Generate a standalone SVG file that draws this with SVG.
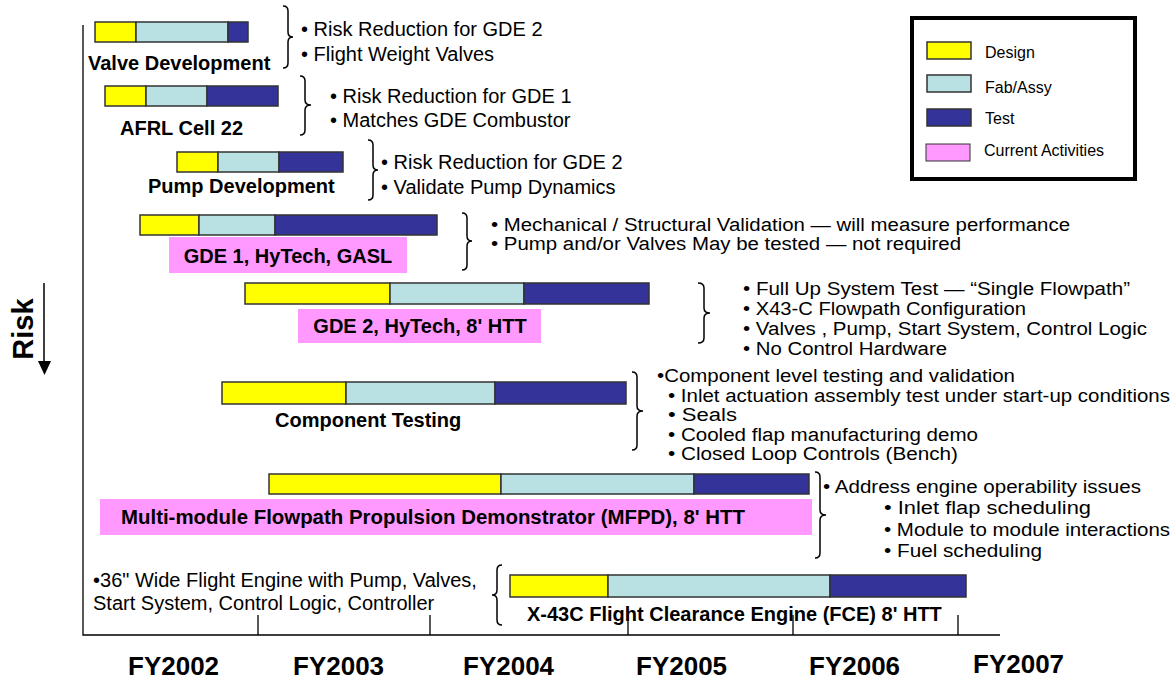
<svg xmlns="http://www.w3.org/2000/svg" width="1176" height="679" viewBox="0 0 1176 679">
<defs>
<style>
.d{fill:#FFFF00;stroke:#333;stroke-width:1.5}
.f{fill:#B9E1E4;stroke:#333;stroke-width:1.5}
.t{fill:#333399;stroke:#333;stroke-width:1.5}
.p{fill:#FF99FF}
.lb{font-family:"Liberation Sans",Arial,sans-serif;font-weight:bold;font-size:20px;fill:#000}
.tx{font-family:"Liberation Sans",Arial,sans-serif;font-size:20px;fill:#000}
.sm{font-family:"Liberation Sans",Arial,sans-serif;font-size:18px;fill:#000}
.lg{font-family:"Liberation Sans",Arial,sans-serif;font-size:16px;fill:#000}
.fy{font-family:"Liberation Sans",Arial,sans-serif;font-weight:bold;font-size:26px;fill:#000}
.br{fill:none;stroke:#000;stroke-width:1.5}
.ax{fill:none;stroke:#000;stroke-width:1.3}
</style>
</defs>
<rect width="1176" height="679" fill="#fff"/>

<g id="axes">
<path class="ax" d="M83,25 V635 H1000"/>
<path class="ax" d="M258,615 V635 M430,615 V635 M628,615 V635 M793,615 V635 M958,615 V635"/>
<text class="fy" x="128" y="675">FY2002</text>
<text class="fy" x="293" y="675">FY2003</text>
<text class="fy" x="463" y="675">FY2004</text>
<text class="fy" x="636" y="675">FY2005</text>
<text class="fy" x="809" y="675">FY2006</text>
<text class="fy" x="973" y="673">FY2007</text>
</g>

<g id="risk">
<text class="lb" style="font-size:29px" transform="translate(33,329) rotate(-90)" text-anchor="middle">Risk</text>
<line x1="44" y1="283" x2="44" y2="362" stroke="#000" stroke-width="1.5"/>
<path d="M38,361 L51,361 L44.5,375 z" fill="#000"/>
</g>

<g id="legend">
<rect x="912" y="18" width="223" height="161" fill="#fff" stroke="#000" stroke-width="4"/>
<rect class="d" x="927" y="42" width="44" height="17"/>
<text class="lg" x="985" y="58">Design</text>
<rect class="f" x="927" y="75" width="44" height="17"/>
<text class="lg" x="985" y="93">Fab/Assy</text>
<rect class="t" x="927" y="109" width="44" height="17"/>
<text class="lg" x="985" y="124">Test</text>
<rect class="p" x="926" y="144" width="44" height="17" stroke="#333" stroke-width="1"/>
<text class="lg" x="984" y="156">Current Activities</text>
</g>

<g id="valve">
<rect class="d" x="95" y="22" width="41" height="20"/>
<rect class="f" x="136" y="22" width="92" height="20"/>
<rect class="t" x="228" y="22" width="20" height="20"/>
<text class="lb" x="88" y="70">Valve Development</text>
<text class="tx" x="301" y="36">• Risk Reduction for GDE 2</text>
<text class="tx" x="301" y="61">• Flight Weight Valves</text>
</g>

<g id="afrl">
<rect class="d" x="105" y="86" width="41" height="20"/>
<rect class="f" x="146" y="86" width="61" height="20"/>
<rect class="t" x="207" y="86" width="71" height="20"/>
<text class="lb" x="120" y="135">AFRL Cell 22</text>
<text class="tx" x="330" y="103">• Risk Reduction for GDE 1</text>
<text class="tx" x="330" y="127">• Matches GDE Combustor</text>
</g>

<g id="pump">
<rect class="d" x="177" y="152" width="41" height="20"/>
<rect class="f" x="218" y="152" width="61" height="20"/>
<rect class="t" x="279" y="152" width="64" height="20"/>
<text class="lb" x="148" y="193">Pump Development</text>
<text class="tx" x="381" y="169">• Risk Reduction for GDE 2</text>
<text class="tx" x="381" y="194">• Validate Pump Dynamics</text>
</g>

<g id="gde1">
<rect class="d" x="140" y="215" width="59" height="20"/>
<rect class="f" x="199" y="215" width="76" height="20"/>
<rect class="t" x="275" y="215" width="162" height="20"/>
<rect class="p" x="169" y="237" width="238" height="36"/>
<text class="lb" x="288" y="263" text-anchor="middle">GDE 1, HyTech, GASL</text>
<text class="sm" x="491" y="231" textLength="579" lengthAdjust="spacingAndGlyphs">• Mechanical / Structural Validation — will measure performance</text>
<text class="sm" x="491" y="250" textLength="470" lengthAdjust="spacingAndGlyphs">• Pump and/or Valves May be tested — not required</text>
</g>

<g id="gde2">
<rect class="d" x="245" y="283" width="145" height="21"/>
<rect class="f" x="390" y="283" width="134" height="21"/>
<rect class="t" x="524" y="283" width="125" height="21"/>
<rect class="p" x="298" y="309" width="243" height="34"/>
<text class="lb" x="420" y="333" text-anchor="middle">GDE 2, HyTech, 8' HTT</text>
<text class="sm" x="743" y="295" textLength="387" lengthAdjust="spacingAndGlyphs">• Full Up System Test — “Single Flowpath”</text>
<text class="sm" x="743" y="315" textLength="283" lengthAdjust="spacingAndGlyphs">• X43-C Flowpath Configuration</text>
<text class="sm" x="743" y="335" textLength="404" lengthAdjust="spacingAndGlyphs">• Valves , Pump, Start System, Control Logic</text>
<text class="sm" x="743" y="355" textLength="204" lengthAdjust="spacingAndGlyphs">• No Control Hardware</text>
</g>

<g id="component">
<rect class="d" x="222" y="382" width="124" height="22"/>
<rect class="f" x="346" y="382" width="149" height="22"/>
<rect class="t" x="495" y="382" width="131" height="22"/>
<text class="lb" x="275" y="427">Component Testing</text>
<text class="sm" x="657" y="382" textLength="358" lengthAdjust="spacingAndGlyphs">•Component level testing and validation</text>
<text class="sm" x="668" y="402" textLength="502" lengthAdjust="spacingAndGlyphs">• Inlet actuation assembly test under start-up conditions</text>
<text class="sm" x="668" y="421" textLength="69" lengthAdjust="spacingAndGlyphs">• Seals</text>
<text class="sm" x="668" y="441" textLength="310" lengthAdjust="spacingAndGlyphs">• Cooled flap manufacturing demo</text>
<text class="sm" x="668" y="460" textLength="290" lengthAdjust="spacingAndGlyphs">• Closed Loop Controls (Bench)</text>
</g>

<g id="mfpd">
<rect class="d" x="269" y="474" width="232" height="20"/>
<rect class="f" x="501" y="474" width="193" height="20"/>
<rect class="t" x="694" y="474" width="115" height="20"/>
<rect class="p" x="100" y="499" width="712" height="36"/>
<text class="lb" x="121" y="524" textLength="624" lengthAdjust="spacingAndGlyphs">Multi-module Flowpath Propulsion Demonstrator (MFPD), 8' HTT</text>
<text class="sm" x="823" y="493" textLength="318" lengthAdjust="spacingAndGlyphs">• Address engine operability issues</text>
<text class="sm" x="884" y="514" textLength="207" lengthAdjust="spacingAndGlyphs">• Inlet flap scheduling</text>
<text class="sm" x="884" y="536" textLength="286" lengthAdjust="spacingAndGlyphs">• Module to module interactions</text>
<text class="sm" x="884" y="557" textLength="158" lengthAdjust="spacingAndGlyphs">• Fuel scheduling</text>
</g>

<g id="fce">
<rect class="d" x="510" y="575" width="98" height="22"/>
<rect class="f" x="608" y="575" width="222" height="22"/>
<rect class="t" x="830" y="575" width="136" height="22"/>
<text class="lb" x="527" y="621">X-43C Flight Clearance Engine (FCE) 8' HTT</text>
<text class="tx" x="93" y="587">•36" Wide Flight Engine with Pump, Valves,</text>
<text class="tx" x="93" y="610">Start System, Control Logic, Controller</text>
</g>

<g id="connectors">
<path class="br" d="M283,6 Q288,6 288,11 V32 Q288,37 293,37 Q288,37 288,42 V63 Q288,68 283,68"/>
<path class="br" d="M300,76 Q305,76 305,81 V100 Q305,105 311,105 Q305,105 305,110 V130 Q305,135 300,135"/>
<path class="br" d="M368,140 Q373,140 373,145 V165 Q373,170 378,170 Q373,170 373,175 V195 Q373,200 368,200"/>
<path class="br" d="M462,213 Q467,213 467,218 V236 Q467,241 472,241 Q467,241 467,246 V265 Q467,270 462,270"/>
<path class="br" d="M698,283 Q704,283 704,288 V308 Q704,313 710,313 Q704,313 704,318 V338 Q704,343 698,343"/>
<path class="br" d="M632,372 Q637,372 637,377 V406 Q637,411 643,411 Q637,411 637,416 V445 Q637,450 632,450"/>
<path class="br" d="M815,472 Q820,472 820,477 V510 Q820,515 826,515 Q820,515 820,520 V553 Q820,558 815,558"/>
<path class="br" d="M502,565 Q497,565 497,570 V590 Q497,595 492,595 Q497,595 497,600 V620 Q497,625 502,625"/>
</g>
</svg>
